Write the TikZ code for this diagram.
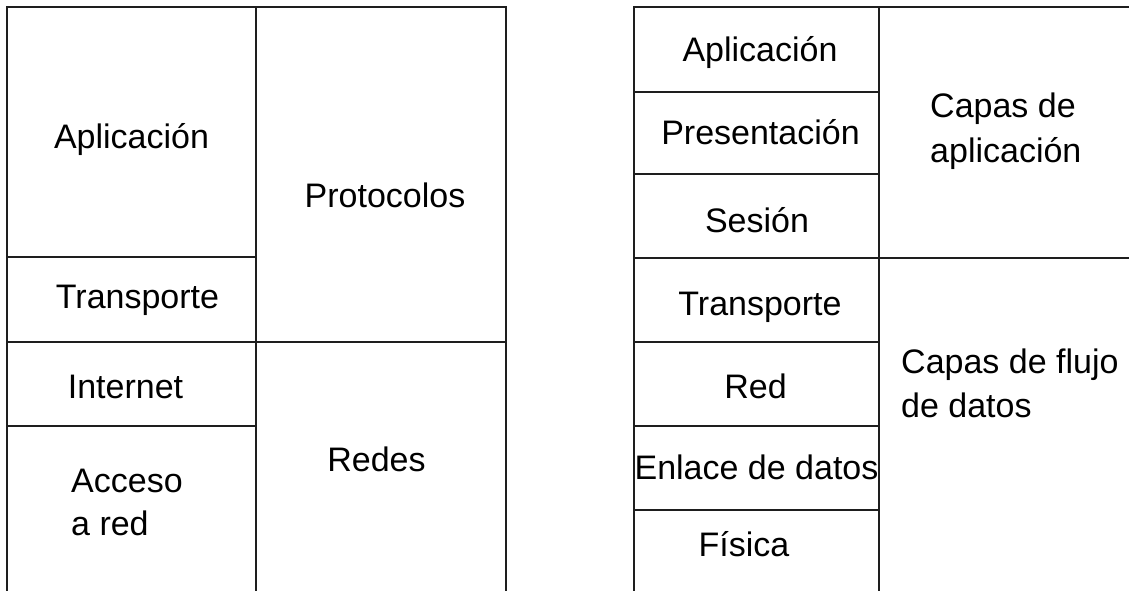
\documentclass[tikz,border=0pt]{standalone}
\usepackage{fontspec}
\setmainfont{Liberation Sans}
\definecolor{linecol}{HTML}{1E1E1E}
\begin{document}
\begin{tikzpicture}[x=1pt,y=-1pt,
  grid/.style={draw=linecol,line width=2pt},
  lbl/.style={anchor=base,inner sep=0pt,font=\fontsize{34}{45}\selectfont,text=black},
  lbll/.style={anchor=base west,inner sep=0pt,font=\fontsize{34}{45}\selectfont,text=black}]
\useasboundingbox (0,0) rectangle (1129,590);
% left table
\draw[grid] (7,600) -- (7,7) -- (506,7) -- (506,600);
\draw[grid] (256,7) -- (256,600);
\draw[grid] (7,257) -- (256,257);
\draw[grid] (7,342) -- (506,342);
\draw[grid] (7,426) -- (256,426);
% right table
\draw[grid] (634,600) -- (634,7) -- (1140,7);
\draw[grid] (879,7) -- (879,600);
\draw[grid] (634,92) -- (879,92);
\draw[grid] (634,174) -- (879,174);
\draw[grid] (634,258) -- (1140,258);
\draw[grid] (634,342) -- (879,342);
\draw[grid] (634,426) -- (879,426);
\draw[grid] (634,510) -- (879,510);
% left labels
\node[lbl] (lapl) at (131.5,148) {Aplicación};
\node[lbl] (lprot) at (385,207) {Protocolos};
\node[lbl] (ltrans) at (137.5,308) {Transporte};
\node[lbl] (linet) at (125.5,398) {Internet};
\node[lbll] (lacc1) at (71,492) {Acceso};
\node[lbll] (lacc2) at (71,535) {a red};
\node[lbl] (lred) at (376.5,471) {Redes};
% right labels
\node[lbl] (rapl) at (760,61) {Aplicación};
\node[lbl] (rpres) at (760.5,144) {Presentación};
\node[lbl] (rses) at (757,232) {Sesión};
\node[lbll] (rcap1) at (930,117) {Capas de};
\node[lbll] (rcap2) at (930,162) {aplicación};
\node[lbl] (rtrans) at (760,315) {Transporte};
\node[lbl] (rred) at (755.5,398) {Red};
\node[lbl] (renl) at (756.5,479) {Enlace de datos};
\node[lbl] (rfis) at (744,556) {Física};
\node[lbll] (rflu1) at (901,373) {Capas de flujo};
\node[lbll] (rflu2) at (901,417) {de datos};
\end{tikzpicture}
\end{document}
